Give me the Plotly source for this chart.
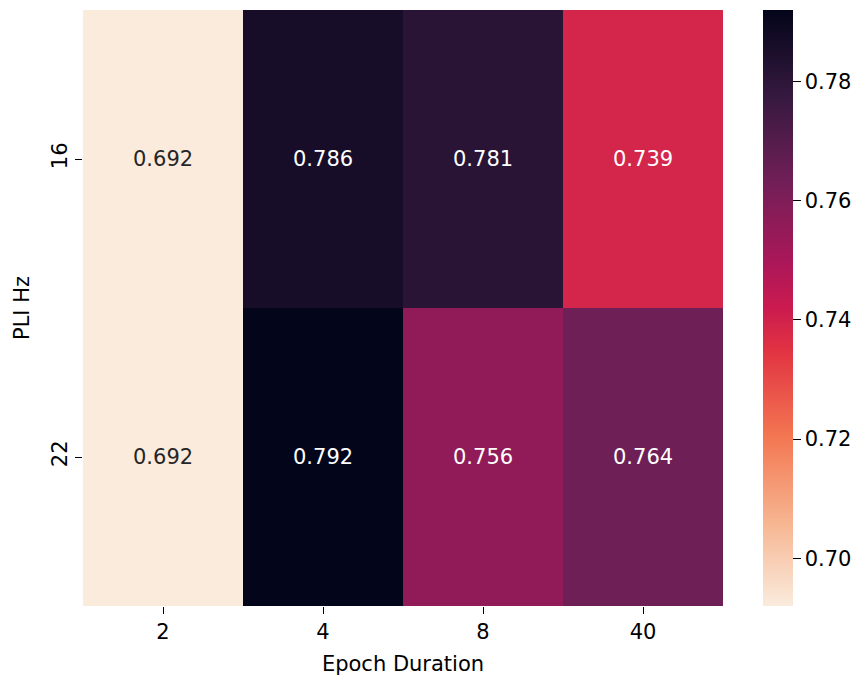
import plotly.graph_objects as go

# Heatmap data: PLI frequency (rows) vs. epoch duration (columns)
epoch_durations = ["2", "4", "8", "40"]
pli_hz = ["16", "22"]
scores_16 = [0.692, 0.786, 0.781, 0.739]
scores_22 = [0.692, 0.792, 0.756, 0.764]
z = [scores_16, scores_22]

# "rocket_r" colour ramp (light for low values, dark for high)
rocket_r = [
    [0.0, "#faebdd"],
    [1 / 7, "#f6b48f"],
    [2 / 7, "#f37651"],
    [3 / 7, "#e13342"],
    [0.5, "#cb1b4f"],
    [4 / 7, "#ad1759"],
    [5 / 7, "#701f57"],
    [6 / 7, "#35193e"],
    [1.0, "#03051a"],
]

zmin = min(min(r) for r in z)
zmax = max(max(r) for r in z)
font_family = "DejaVu Sans"
fs = 21

L, R, T, B = 83, 141, 10, 73
plot_w = 864 - L - R

xi_pos = list(range(len(epoch_durations)))
yi_pos = list(range(len(pli_hz)))

fig = go.Figure(
    go.Heatmap(
        x=xi_pos,
        y=yi_pos,
        z=z,
        zmin=zmin,
        zmax=zmax,
        colorscale=rocket_r,
        hoverinfo="skip",
        colorbar=dict(
            x=(763 - L) / plot_w,
            xanchor="left",
            xpad=0,
            y=0.5,
            yanchor="middle",
            ypad=0,
            len=1.0,
            lenmode="fraction",
            thickness=30,
            thicknessmode="pixels",
            outlinewidth=0,
            tickvals=[0.70, 0.72, 0.74, 0.76, 0.78],
            ticktext=["0.70", "0.72", "0.74", "0.76", "0.78"],
            ticks="outside",
            ticklen=8,
            tickwidth=1.3,
            tickcolor="black",
            tickfont=dict(family=font_family, size=fs, color="black"),
        ),
    )
)

# Cell annotations: dark text on the lightest cells, white text elsewhere
for yi, row in zip(yi_pos, z):
    for xi, v in zip(xi_pos, row):
        frac = (v - zmin) / (zmax - zmin)
        fig.add_annotation(
            x=xi,
            y=yi,
            xref="x",
            yref="y",
            text=f"{v:.3f}",
            showarrow=False,
            font=dict(
                family=font_family,
                size=fs,
                color="#262626" if frac < 0.3 else "white",
            ),
        )

fig.update_layout(
    width=864,
    height=679,
    margin=dict(l=L, r=R, t=T, b=B, autoexpand=False),
    paper_bgcolor="white",
    plot_bgcolor="white",
    font=dict(family=font_family, size=fs, color="black"),
    xaxis=dict(
        range=[-0.5, len(epoch_durations) - 0.5],
        tickvals=xi_pos,
        ticktext=epoch_durations,
        title=dict(text="Epoch Duration", font=dict(size=fs), standoff=13),
        ticks="outside",
        ticklen=7,
        tickwidth=1.3,
        tickcolor="black",
        tickfont=dict(size=fs),
        showgrid=False,
        zeroline=False,
        showline=False,
    ),
    yaxis=dict(
        range=[len(pli_hz) - 0.5, -0.5],
        tickvals=yi_pos,
        ticktext=pli_hz,
        title=dict(text="PLI Hz", font=dict(size=fs), standoff=12),
        ticks="outside",
        ticklen=7,
        tickwidth=1.3,
        tickcolor="black",
        tickangle=-90,
        tickfont=dict(size=fs),
        showgrid=False,
        zeroline=False,
        showline=False,
    ),
)

fig.write_html("out.html")
